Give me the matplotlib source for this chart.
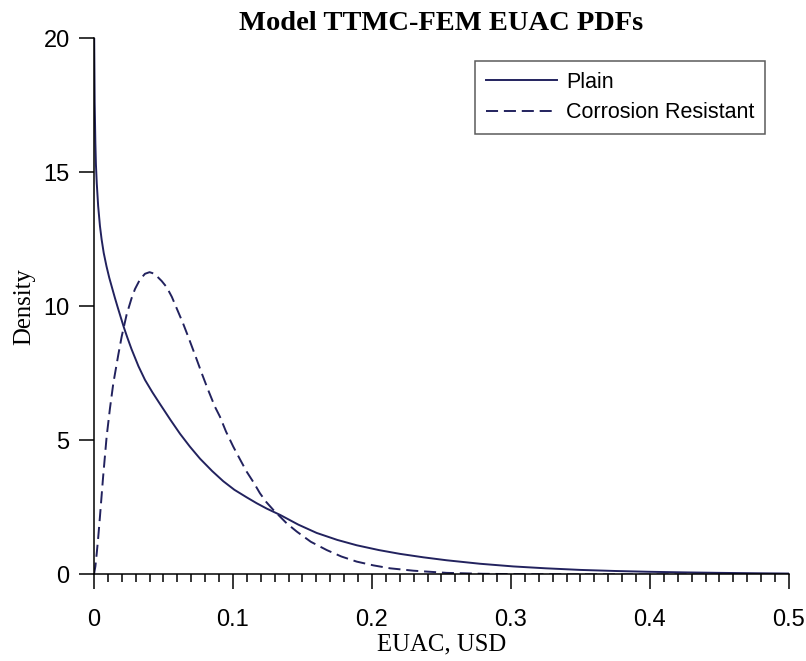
import matplotlib
matplotlib.use('Agg')
import matplotlib.pyplot as plt
from matplotlib.ticker import MultipleLocator


# values
plain_x = [0.0, 0.0001, 0.0002, 0.0005, 0.0010, 0.0014, 0.0020, 0.0030, 0.0043,
           0.0055, 0.0070, 0.0090, 0.0110, 0.0130, 0.0150, 0.0170, 0.0190,
           0.0215, 0.0240, 0.0270, 0.0320, 0.0367, 0.0420, 0.0475, 0.0550,
           0.0619, 0.0690, 0.0763, 0.0850, 0.0930, 0.1010, 0.1098, 0.1170,
           0.1242, 0.1340, 0.1470, 0.1602, 0.1750, 0.1890, 0.2050, 0.2200,
           0.2370, 0.2537, 0.2777, 0.3017, 0.3250, 0.3500, 0.3750, 0.4000,
           0.4250, 0.4500, 0.4750, 0.5000]
plain_y = [21.5, 20.6, 19.7, 17.6, 16.1, 15.3, 14.6, 13.75, 13.0,
           12.5, 12.0, 11.5, 11.07, 10.7, 10.33, 9.98, 9.64,
           9.22, 8.84, 8.41, 7.77, 7.26, 6.80, 6.36, 5.77,
           5.25, 4.77, 4.32, 3.86, 3.48, 3.16, 2.88, 2.66,
           2.46, 2.22, 1.86, 1.55, 1.29, 1.09, 0.91, 0.77,
           0.64, 0.53, 0.40, 0.30, 0.23, 0.17, 0.13, 0.10,
           0.078, 0.06, 0.046, 0.035]

resist_x = [0.0, 0.0010, 0.0020, 0.0030, 0.0043, 0.0065, 0.0091, 0.0115, 0.0139,
            0.0175, 0.0199, 0.0235, 0.0270, 0.0295, 0.0330, 0.0367, 0.0400,
            0.0435, 0.0487, 0.0523, 0.0560, 0.0595, 0.0640, 0.0678, 0.0730,
            0.0775, 0.0820, 0.0870, 0.0906, 0.0950, 0.1002, 0.1050, 0.1098,
            0.1150, 0.1194, 0.1240, 0.1290, 0.1340, 0.1386, 0.1459, 0.1560,
            0.1675, 0.1780, 0.1890, 0.2010, 0.2130, 0.2300, 0.2537, 0.2800,
            0.3100, 0.3500, 0.4000, 0.4500, 0.5000]
resist_y = [0.0, 0.3, 0.8, 1.35, 2.16, 3.6, 5.14, 6.2, 7.13,
            8.2, 8.87, 9.7, 10.3, 10.65, 11.0, 11.22, 11.28,
            11.22, 10.95, 10.72, 10.36, 9.93, 9.38, 8.87, 8.15,
            7.51, 6.9, 6.26, 5.89, 5.33, 4.77, 4.3, 3.84,
            3.42, 3.03, 2.7, 2.41, 2.15, 1.91, 1.60, 1.22,
            0.91, 0.67, 0.48, 0.34, 0.23, 0.14, 0.06, 0.025,
            0.01, 0.003, 0.001, 0.0003, 0.0]

line_color = '#22225e'

fig = plt.figure(figsize=(8.06, 6.61), dpi=100)
ax = fig.add_axes([0.1166, 0.1309, 0.8623, 0.8109])

ax.plot(plain_x, plain_y, color=line_color, lw=1.4, label='Plain')
ax.plot(resist_x, resist_y, color=line_color, lw=1.4, ls=(0, (6.2, 3.0)),
        label='Corrosion Resistant')

ax.set_xlim(0, 0.5)
ax.set_ylim(0, 20)
ax.set_xticks([0, 0.1, 0.2, 0.3, 0.4, 0.5])
ax.set_xticklabels(['0', '0.1', '0.2', '0.3', '0.4', '0.5'])
ax.set_yticks([0, 5, 10, 15, 20])
ax.xaxis.set_minor_locator(MultipleLocator(0.01))

for side in ['top', 'right']:
    ax.spines[side].set_visible(False)
for side in ['left', 'bottom']:
    ax.spines[side].set_linewidth(1.1)

ax.tick_params(axis='x', which='major', direction='out', length=10.5, width=1.1,
               pad=14, labelsize=17, labelfontfamily='Liberation Sans')
ax.tick_params(axis='x', which='minor', direction='out', length=5.5, width=1.1)
ax.tick_params(axis='y', which='major', direction='out', length=10.5, width=1.1,
               pad=7, labelsize=17, labelfontfamily='Liberation Sans')

ax.set_title('Model TTMC-FEM EUAC PDFs', family='Liberation Serif',
             fontweight='bold', fontsize=20.5, pad=6)
ax.set_xlabel('EUAC, USD', family='Liberation Serif', fontsize=17.8, labelpad=2)
ax.set_ylabel('Density', family='Liberation Serif', fontsize=17.8, labelpad=6)

leg = ax.legend(loc='upper right', bbox_to_anchor=(0.9655, 0.958),
                prop={'family': 'Liberation Sans', 'size': 15.5},
                fancybox=False, frameon=True, handlelength=3.3,
                borderpad=0.5, labelspacing=0.45, handletextpad=0.4,
                borderaxespad=0)
leg.get_frame().set_edgecolor('#333333')
leg.get_frame().set_linewidth(1.1)

fig.savefig('out.png', dpi=100)
